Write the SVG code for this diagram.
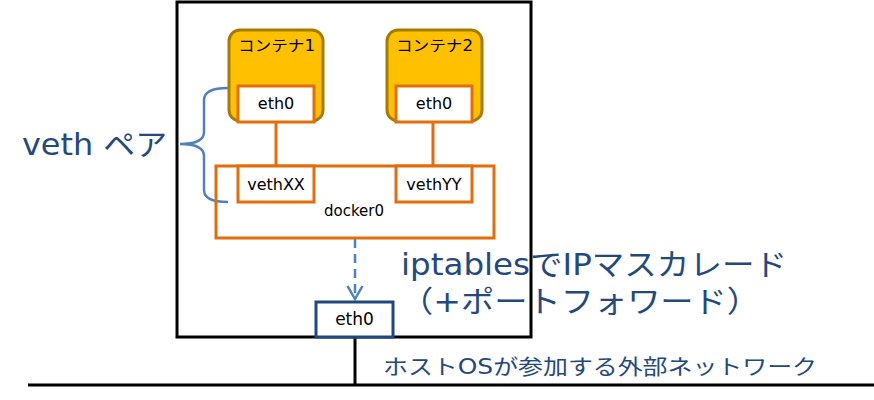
<svg xmlns="http://www.w3.org/2000/svg" width="874" height="400" viewBox="0 0 874 400">
<style>
.t{font-family:"DejaVu Sans","Noto Sans CJK JP",sans-serif;fill:#000}
.b{font-family:"DejaVu Sans","Noto Sans CJK JP",sans-serif;fill:#24497F}
.ct{fill:#FFC000;stroke:#A67C00;stroke-width:3}
.if{fill:#fff;stroke:#E46C0A;stroke-width:3}
.ol{stroke:#E46C0A;stroke-width:3;fill:none}
.bl{stroke:#4F81BD;stroke-width:2.5;fill:none}
</style>
<g id="host">
<rect x="177" y="2" width="354" height="335" fill="none" stroke="#000" stroke-width="3"/>
</g>
<g id="connectors">
<line class="ol" x1="276" y1="122" x2="276" y2="166"/>
<line class="ol" x1="433" y1="122" x2="433" y2="166"/>
<line class="bl" x1="355" y1="239" x2="355" y2="297" stroke-dasharray="9,6"/>
<polyline class="bl" points="347.5,286 355,299 362.5,286"/>
<line x1="355" y1="337" x2="355" y2="385" stroke="#000" stroke-width="3"/>
<line x1="28" y1="385" x2="874" y2="385" stroke="#000" stroke-width="3"/>
<path class="bl" d="M228,88 Q204,88 204,100 L204,132 Q204,144 180,144 Q204,144 204,156 L204,190 Q204,202 228,202"/>
</g>
<g id="container1">
<rect class="ct" x="229" y="30" width="94" height="91" rx="11"/>
<text class="t" x="238" y="51" font-size="15" textLength="77" lengthAdjust="spacingAndGlyphs">コンテナ1</text>
</g>
<g id="container2">
<rect class="ct" x="387" y="30" width="95" height="91" rx="11"/>
<text class="t" x="396" y="51" font-size="15" textLength="77" lengthAdjust="spacingAndGlyphs">コンテナ2</text>
</g>
<g id="eth0-1">
<rect class="if" x="238" y="86" width="76" height="36"/>
<text class="t" x="276" y="109" font-size="16" text-anchor="middle">eth0</text>
</g>
<g id="eth0-2">
<rect class="if" x="396" y="86" width="76" height="36"/>
<text class="t" x="434" y="109" font-size="16" text-anchor="middle">eth0</text>
</g>
<g id="docker0">
<rect class="ol" x="216" y="166" width="278" height="72"/>
<text class="t" x="354" y="216" font-size="15" text-anchor="middle">docker0</text>
</g>
<g id="vethXX">
<rect class="if" x="238" y="166" width="76" height="36"/>
<text class="t" x="276" y="190" font-size="16" text-anchor="middle">vethXX</text>
</g>
<g id="vethYY">
<rect class="if" x="396" y="166" width="76" height="36"/>
<text class="t" x="434" y="190" font-size="16" text-anchor="middle">vethYY</text>
</g>
<g id="eth0-host">
<rect x="316" y="302" width="77" height="35" fill="#fff" stroke="#1F497D" stroke-width="3"/>
<text class="t" x="354.5" y="325" font-size="17" text-anchor="middle">eth0</text>
</g>
<g id="labels">
<text class="b" x="22" y="155" font-size="30" textLength="145" lengthAdjust="spacingAndGlyphs">veth ペア</text>
<text class="b" x="401" y="275" font-size="30" textLength="386" lengthAdjust="spacingAndGlyphs">iptablesでIPマスカレード</text>
<text class="b" x="400" y="312" font-size="30" textLength="360" lengthAdjust="spacingAndGlyphs">（+ポートフォワード）</text>
<text class="b" x="383" y="374" font-size="21" textLength="434" lengthAdjust="spacingAndGlyphs">ホストOSが参加する外部ネットワーク</text>
</g>
</svg>
